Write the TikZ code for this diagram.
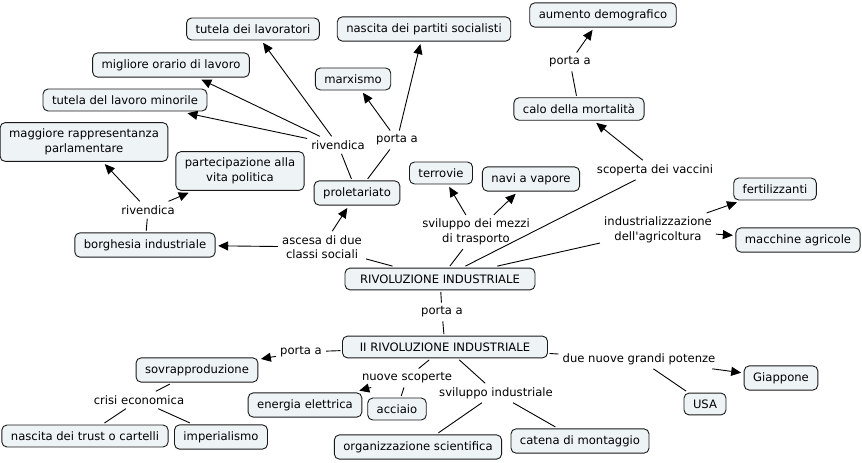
\documentclass[tikz,border=0pt]{standalone}
\usepackage{fontspec}
\setmainfont{DejaVu Sans}[Ligatures=TeXOff]
\usetikzlibrary{arrows.meta}
\definecolor{cmapfill}{RGB}{238,243,246}
\newcommand{\cmapfont}{\fontsize{11.6}{14.5}\selectfont}

\begin{document}
\begin{tikzpicture}[x=1pt, y=-1pt,
  concept/.style={draw=black!90, fill=cmapfill, rounded corners=5pt, line width=0.9pt,
    inner xsep=9pt, inner ysep=6.5pt, outer sep=2pt, font=\cmapfont, align=center},
  phrase/.style={inner sep=4pt, font=\cmapfont, align=center},
  link/.style={draw=black, line width=0.9pt},
  arr/.style={link, -{Triangle[length=10pt,width=9pt]}, shorten >=1pt}]
  \useasboundingbox (0,0) rectangle (862,463);
  % Concepts
  \node[concept, minimum width=190pt] (ri) at (440,279) {RIVOLUZIONE INDUSTRIALE};
  \node[concept, minimum width=205pt] (iiri) at (445,347) {II RIVOLUZIONE INDUSTRIALE};
  \node[concept] (tutlav) at (253,29) {tutela dei lavoratori};
  \node[concept] (partiti) at (424,29) {nascita dei partiti socialisti};
  \node[concept] (aumento) at (603,15) {aumento demografico};
  \node[concept] (orario) at (171,65) {migliore orario di lavoro};
  \node[concept] (marx) at (353,79) {marxismo};
  \node[concept] (minorile) at (125,100) {tutela del lavoro minorile};
  \node[concept] (calo) at (579,109) {calo della mortalità};
  \node[concept] (rappr) at (84,142) {maggiore rappresentanza\\parlamentare};
  \node[concept] (partec) at (240,171) {partecipazione alla\\vita politica};
  \node[concept] (prol) at (357,193) {proletariato};
  \node[concept] (ferr) at (441,173) {terrovie};
  \node[concept] (navi) at (531,179) {navi a vapore};
  \node[concept] (fert) at (775,189) {fertilizzanti};
  \node[concept] (macch) at (798,240) {macchine agricole};
  \node[concept] (borgh) at (145,245) {borghesia industriale};
  \node[concept] (sovr) at (197,370) {sovrapproduzione};
  \node[concept] (energia) at (305,405) {energia elettrica};
  \node[concept] (acciaio) at (397,409) {acciaio};
  \node[concept] (usa) at (705,404) {USA};
  \node[concept] (giapp) at (781,378) {Giappone};
  \node[concept] (trust) at (85,436) {nascita dei trust o cartelli};
  \node[concept] (imper) at (221,437) {imperialismo};
  \node[concept] (organ) at (418,447) {organizzazione scientifica};
  \node[concept] (catena) at (580,441) {catena di montaggio};
  % Linking phrases
  \node[phrase] (rivP) at (338,145) {rivendica};
  \node[phrase] (portaP) at (397,140) {porta a};
  \node[phrase] (portaC) at (570,62) {porta a};
  \node[phrase] (rivB) at (148,210) {rivendica};
  \node[phrase] (ascesa) at (322,247) {ascesa di due\\classi sociali};
  \node[phrase] (mezzi) at (476,232) {sviluppo dei mezzi\\di trasporto};
  \node[phrase] (vaccini) at (655,170) {scoperta dei vaccini};
  \node[phrase] (agric) at (658,230) {industrializzazione\\dell'agricoltura};
  \node[phrase] (portaR) at (442,312) {porta a};
  \node[phrase] (portaS) at (301,352) {porta a};
  \node[phrase] (potenze) at (639,359) {due nuove grandi potenze};
  \node[phrase] (scoperte) at (407,378) {nuove scoperte};
  \node[phrase] (sviluppo) at (496,393) {sviluppo industriale};
  \node[phrase] (crisi) at (139,400) {crisi economica};
  % Connectors
  \draw[link] (prol) -- (rivP);
  \draw[arr] (rivP) -- (tutlav);
  \draw[arr] (rivP) -- (orario);
  \draw[arr] (rivP) -- (minorile);
  \draw[link] (prol) -- (portaP);
  \draw[arr] (portaP) -- (marx);
  \draw[arr] (portaP) -- (partiti);
  \draw[link] (calo) -- (portaC);
  \draw[arr] (portaC) -- (aumento);
  \draw[link] (borgh) -- (rivB);
  \draw[arr] (rivB) -- (rappr);
  \draw[arr] (rivB) -- (partec);
  \draw[link] (ri) -- (ascesa);
  \draw[arr] (ascesa) -- (prol);
  \draw[arr] (ascesa) -- (borgh);
  \draw[link] (ri) -- (mezzi);
  \draw[arr] (mezzi) -- (ferr);
  \draw[arr] (mezzi) -- (navi);
  \draw[link] (ri) -- (vaccini);
  \draw[arr] (vaccini) -- (calo);
  \draw[link] (ri) -- (agric);
  \draw[arr] (agric) -- (fert);
  \draw[arr] (agric) -- (macch);
  \draw[link] (ri) -- (portaR);
  \draw[link] (portaR) -- (iiri);
  \draw[link] (iiri) -- (portaS);
  \draw[arr] (portaS) -- (sovr);
  \draw[link] (sovr) -- (crisi);
  \draw[link] (crisi) -- (trust);
  \draw[link] (crisi) -- (imper);
  \draw[link] (iiri) -- (scoperte);
  \draw[arr] (scoperte) -- (energia);
  \draw[link] (scoperte) -- (acciaio);
  \draw[link] (iiri) -- (sviluppo);
  \draw[link] (sviluppo) -- (organ);
  \draw[link] (sviluppo) -- (catena);
  \draw[link] (iiri) -- (potenze);
  \draw[arr] (potenze) -- (giapp);
  \draw[link] (potenze) -- (usa);
\end{tikzpicture}
\end{document}
